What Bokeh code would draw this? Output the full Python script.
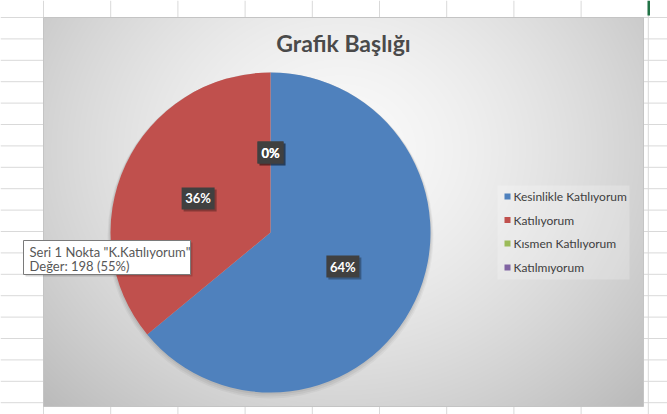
import numpy as np
from bokeh.plotting import figure
from bokeh.models import Range1d, ColumnDataSource
from bokeh.core.properties import value
from bokeh.embed import file_html
from bokeh.resources import INLINE

# ---- data ----
title_text = "Grafik Başlığı"
categories = ["Kesinlikle Katılıyorum", "Katılıyorum", "Kısmen Katılıyorum", "Katılmıyorum"]
values = [64, 36, 0, 0]
colors = ["#4F81BD", "#C0504D", "#9BBB59", "#8064A2"]
tooltip_lines = ['Seri 1 Nokta "K.Katılıyorum"', "Değer: 198 (55%)"]

# ---- layout (page pixel coordinates) ----
W, H = 667, 414


def Y(py):
    return H - py


FONT = "Lato"

p = figure(width=W, height=H, x_range=Range1d(0, W), y_range=Range1d(0, H),
           output_backend="svg", toolbar_location=None, min_border=0)
p.axis.visible = False
p.grid.visible = False
p.outline_line_color = None
p.background_fill_color = "white"
p.border_fill_color = "white"

# spreadsheet grid
col_x = [43 + 67.2 * k for k in range(-1, 11)]
row_y = [17 + 21.4 * k for k in range(-1, 20)]
p.segment(x0=col_x, y0=[Y(0)] * len(col_x), x1=col_x, y1=[Y(414)] * len(col_x),
          line_color="#d9d9d9", line_width=1)
p.segment(x0=[0] * len(row_y), y0=[Y(v) for v in row_y], x1=[667] * len(row_y),
          y1=[Y(v) for v in row_y], line_color="#d9d9d9", line_width=1)
# selected cell marker
p.quad(left=[647], right=[649.5], top=[Y(0)], bottom=[Y(15)], fill_color="#217346", line_color=None)

# chart area with radial gradient
cx0, cx1, cy0, cy1 = 43, 643, 17, 406
nx, ny = cx1 - cx0, cy1 - cy0
gx = cx0 + np.arange(nx) + 0.5
gy = cy1 - (np.arange(ny) + 0.5)
GX, GY = np.meshgrid(gx, gy)
d = np.sqrt(((GX - 340) / 330) ** 2 + ((GY - 150) / 290) ** 2)
shade = 250 - 45 * np.minimum(d, 1.25) ** 1.5
img = np.empty((ny, nx), dtype=np.uint32)
view = img.view(dtype=np.uint8).reshape((ny, nx, 4))
view[..., 0] = shade.astype(np.uint8)
view[..., 1] = shade.astype(np.uint8)
view[..., 2] = shade.astype(np.uint8)
view[..., 3] = 255
p.image_rgba(image=[img], x=cx0, y=Y(cy1), dw=nx, dh=ny)
p.quad(left=[cx0], right=[cx1], top=[Y(cy0)], bottom=[Y(cy1)], fill_color=None,
       line_color="#c4c4c4", line_width=1)

# title
p.text(x=[343], y=[Y(42)], text=[title_text], text_font=value(FONT), text_font_style="bold",
       text_font_size="23px", text_color="#4a4a4a", text_align="center", text_baseline="middle")

# pie
PX, PY, R = 270, 232, 160
for k, a in enumerate([0.05, 0.05, 0.04]):
    p.circle(x=[PX], y=[Y(PY + 1 + k)], radius=R + 1 + k, fill_color="black", fill_alpha=a,
             line_color=None)

vals = np.array(values, dtype=float)
fr = vals / vals.sum()
cum = np.concatenate([[0.0], np.cumsum(fr)])
start = np.radians(90 - cum[1:] * 360)
end = np.radians(90 - cum[:-1] * 360)
mask = fr > 0
wsrc = ColumnDataSource(dict(start=start[mask], end=end[mask],
                             color=[c for c, m in zip(colors, mask) if m]))
p.wedge(x=PX, y=Y(PY), radius=R, start_angle="start", end_angle="end", fill_color="color",
        line_color=None, source=wsrc)

# data labels
mid = (start + end) / 2
lx = PX + 0.5 * R * np.cos(mid)
ly = Y(PY) + 0.5 * R * np.sin(mid)
ltxt = [f"{round(f * 100)}%" for f in fr]
bw = np.array([7 * len(t) + 12 for t in ltxt], dtype=float)
bh = 22
p.quad(left=lx - bw / 2 + 2, right=lx + bw / 2 + 2, top=ly + bh / 2 - 2, bottom=ly - bh / 2 - 2,
       fill_color="black", fill_alpha=0.3, line_color=None)
p.quad(left=lx - bw / 2, right=lx + bw / 2, top=ly + bh / 2, bottom=ly - bh / 2,
       fill_color="#404040", line_color=None)
p.text(x=lx, y=ly, text=ltxt, text_font=value(FONT), text_font_style="bold",
       text_font_size="13px", text_color="white", text_align="center", text_baseline="middle")

# legend
p.quad(left=[497], right=[629], top=[Y(185)], bottom=[Y(279)], fill_color="white",
       fill_alpha=0.22, line_color=None)
leg_y = [Y(v) for v in (196, 219.5, 243, 267)]
p.quad(left=[504] * 4, right=[510] * 4, top=[v + 3 for v in leg_y], bottom=[v - 3 for v in leg_y],
       fill_color=colors, line_color=None)
p.text(x=[513] * 4, y=leg_y, text=categories, text_font=value(FONT), text_font_size="12px",
       text_color="#404040", text_align="left", text_baseline="middle")

# tooltip
p.quad(left=[25], right=[192], top=[Y(242)], bottom=[Y(276)], fill_color="black", fill_alpha=0.15,
       line_color=None)
p.quad(left=[23], right=[190], top=[Y(240)], bottom=[Y(274)], fill_color="white",
       line_color="#7a7a7a", line_width=1)
p.text(x=[29, 29], y=[Y(251), Y(265)], text=tooltip_lines, text_font=value(FONT),
       text_font_size="13px", text_color="#575757", text_align="left", text_baseline="middle")

open("out.html", "w").write(file_html(p, INLINE))
